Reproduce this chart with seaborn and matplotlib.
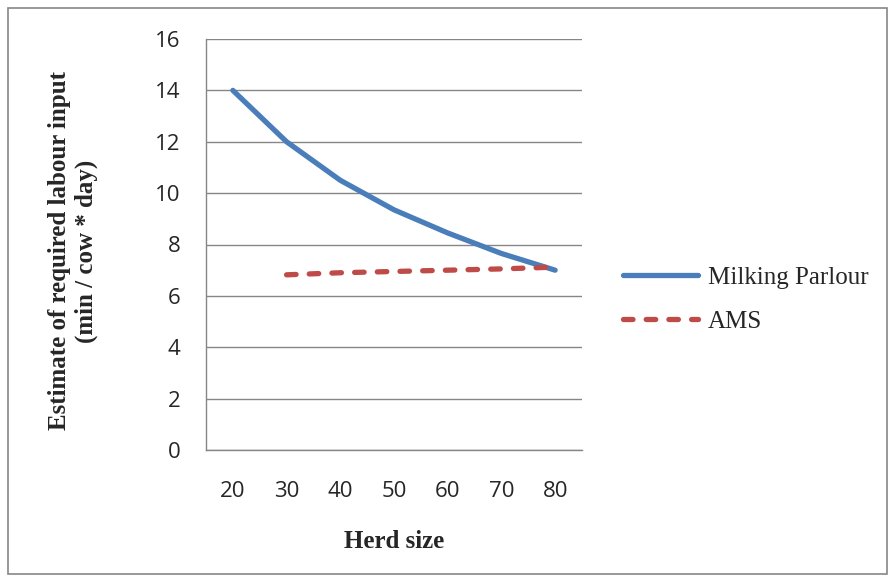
import numpy as np
import pandas as pd
import matplotlib.pyplot as plt
import seaborn as sns
from matplotlib.patches import Rectangle

# values
herd_sizes = ['20', '30', '40', '50', '60', '70', '80']
milking_parlour = [14.0, 12.0, 10.5, 9.35, 8.45, 7.65, 7.0]
ams = [np.nan, 6.82, 6.9, 6.95, 7.0, 7.05, 7.12]

df = pd.DataFrame({
    'Herd size': herd_sizes * 2,
    'value': milking_parlour + ams,
    'series': ['Milking Parlour'] * 7 + ['AMS'] * 7,
}).dropna()

sns.set_style('white')
plt.rcParams['font.family'] = ['Open Sans', 'DejaVu Sans']

fig = plt.figure(figsize=(8.95, 5.82), dpi=100)
ax = fig.add_axes([206 / 895, 1 - 450 / 582, 376 / 895, 411 / 582])

lw = 3.8
sns.lineplot(data=df, x='Herd size', y='value', hue='series', style='series',
             palette={'Milking Parlour': '#4A7EBB', 'AMS': '#BE4B48'},
             dashes={'Milking Parlour': '', 'AMS': (1.8, 2.5)},
             linewidth=lw, sort=False, ax=ax, legend=True)
for line in ax.lines:
    line.set_solid_capstyle('round')
    line.set_dash_capstyle('round')
    line.set_solid_joinstyle('round')

ax.set_xlim(-0.5, 6.5)
ax.set_ylim(0, 16)
ax.set_yticks(range(0, 17, 2))
ax.set_xticks(range(7))
ax.set_xticklabels(herd_sizes)
ax.set_xticks(np.arange(-0.5, 7, 1), minor=True)
ax.tick_params(axis='x', which='major', length=0, pad=22, labelsize=16)
ax.tick_params(axis='x', which='minor', length=4.5, color='#868686', width=1, direction='out')
ax.tick_params(axis='y', length=6.5, color='#868686', width=1, direction='out', pad=12, labelsize=16)
ax.yaxis.grid(True, color='#868686', linewidth=1)
ax.set_axisbelow(True)
for s in ['top', 'right']:
    ax.spines[s].set_visible(False)
for s in ['left', 'bottom']:
    ax.spines[s].set_color('#868686')
    ax.spines[s].set_linewidth(1)

serif = ['Liberation Serif', 'DejaVu Serif']
ax.set_xlabel('Herd size', family=serif, fontweight='bold', fontsize=18, va='center')
ax.xaxis.set_label_coords(0.5, (450 - 542) / 411)
ax.set_ylabel('Estimate of required labour input\n(min / cow * day)', family=serif,
              fontweight='bold', fontsize=18, linespacing=1.15, va='center')
ax.yaxis.set_label_coords((73 - 206) / 376, (450 - 251) / 411)

leg = ax.legend(loc='center left', bbox_to_anchor=((613 - 206) / 376, (450 - 299.5) / 411),
                frameon=False, borderaxespad=0, handlelength=3, handletextpad=0.4,
                prop={'family': serif, 'size': 18}, labelspacing=0.85)
for h in leg.get_lines():
    h.set_linewidth(lw)

fig.patches.append(Rectangle((8 / 895, 8 / 582), 879 / 895, 566 / 582, transform=fig.transFigure,
                             fill=False, edgecolor='#868686', linewidth=1.2))

plt.savefig('out.png', dpi=100)
